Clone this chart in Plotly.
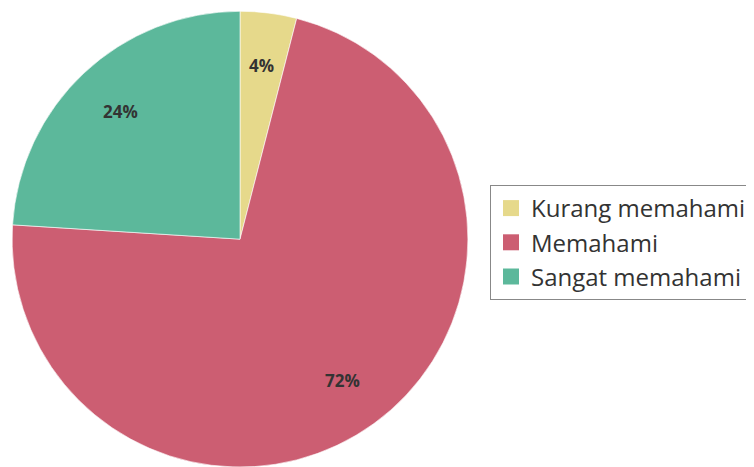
import math
import plotly.graph_objects as go

labels = ["Kurang memahami", "Memahami", "Sangat memahami"]
values = [4, 72, 24]
colors = ["#E6D98B", "#CC5E72", "#5CB89B"]

W, H = 754, 467
OFF = 8  # page body margin offset in pixels
CX, CY, R = 240, 239, 228  # pie center/radius in screen pixels

fig = go.Figure()
fig.add_trace(go.Pie(
    labels=labels,
    values=values,
    sort=False,
    direction="clockwise",
    rotation=0,
    marker=dict(colors=colors, line=dict(color="rgba(255,255,255,0.6)", width=1)),
    textinfo="none",
    domain=dict(x=[0.004, 0.6114], y=[0.017, 0.993]),
    hoverinfo="label+percent",
    showlegend=False,
))

# legend entries via dummy square markers
for lab, col in zip(labels, colors):
    fig.add_trace(go.Scatter(
        x=[None], y=[None], mode="markers", name=lab,
        marker=dict(symbol="square", size=22, color=col),
    ))

# percent labels along each slice's mid-angle
total = sum(values)
cum = 0
for v in values:
    mid = (cum + v / 2) / total * 2 * math.pi
    cum += v
    r = 0.767 * R
    px = CX + r * math.sin(mid) - OFF
    py = CY - r * math.cos(mid) - OFF
    fig.add_annotation(
        x=px / W, y=1 - py / H, xref="paper", yref="paper",
        xanchor="center", yanchor="middle",
        text="<b>%d%%</b>" % round(v / total * 100),
        showarrow=False,
        font=dict(family="Open Sans", size=17, color="#333333"),
    )

fig.update_layout(
    width=W, height=H,
    margin=dict(l=0, r=0, t=0, b=0),
    paper_bgcolor="white",
    plot_bgcolor="white",
    xaxis=dict(visible=False),
    yaxis=dict(visible=False),
    font=dict(family="Open Sans", color="#333333"),
    showlegend=True,
    legend=dict(
        x=(490 - OFF) / W, y=1 - (185 - OFF) / H, xanchor="left", yanchor="top",
        bordercolor="#888888", borderwidth=1,
        font=dict(family="Open Sans", size=24, color="#333333"),
        tracegroupgap=0,
    ),
)

fig.write_html("out.html")
